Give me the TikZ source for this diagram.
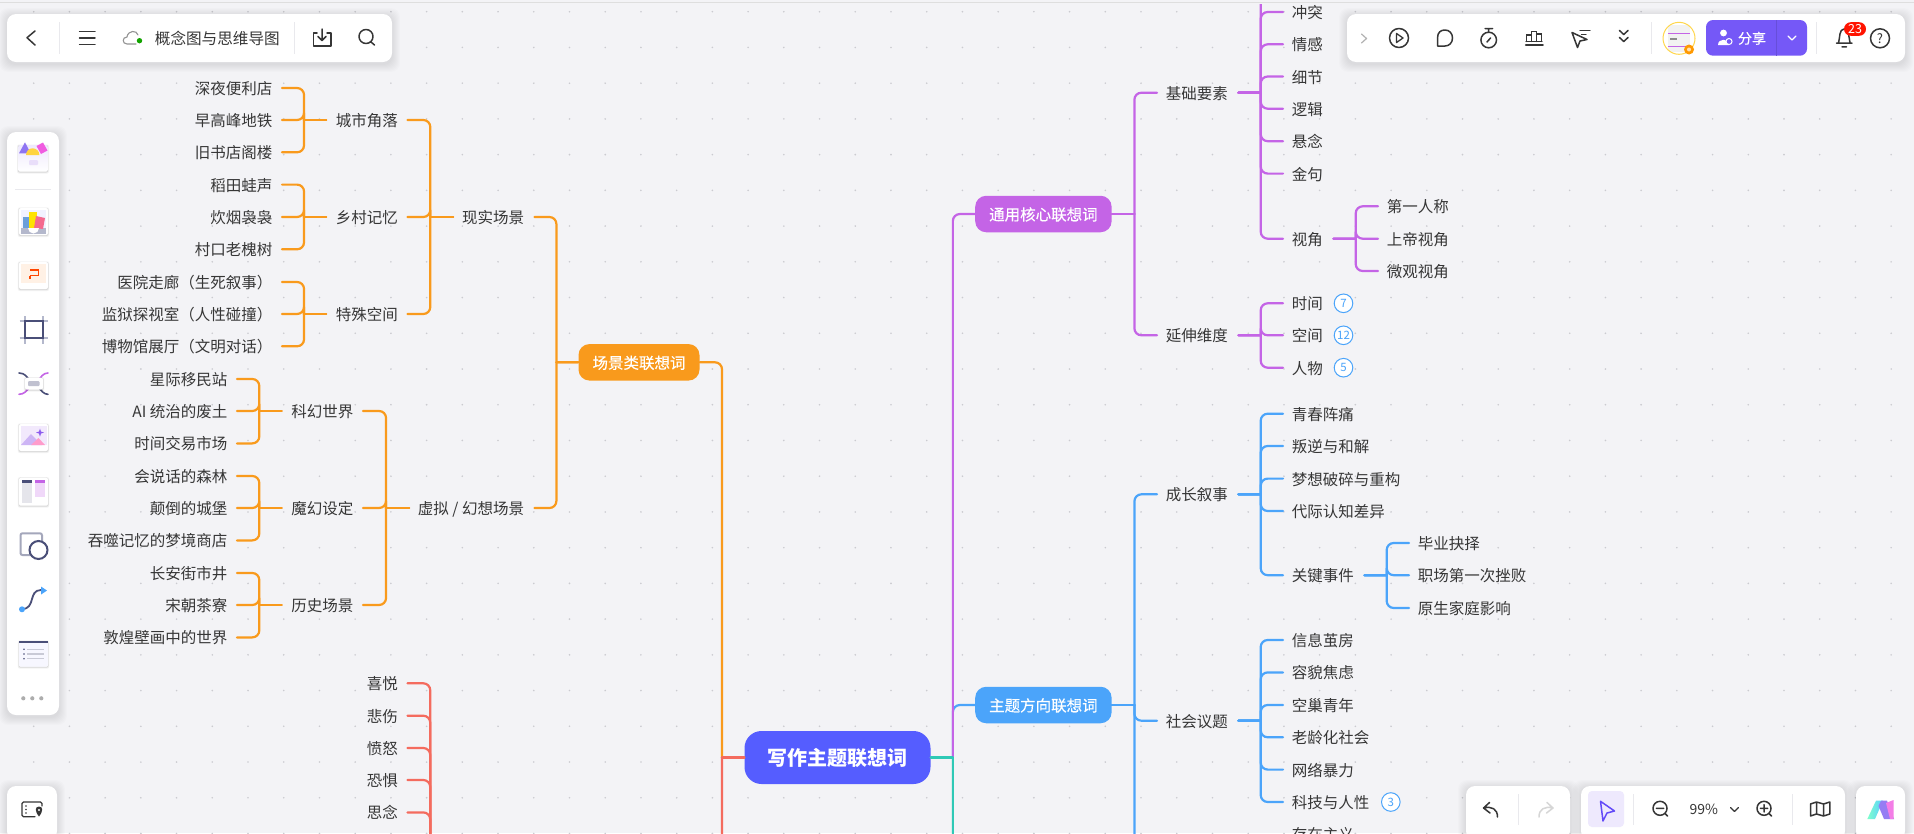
\documentclass[tikz,border=0pt]{standalone}
\usepackage{fontspec}
\setmainfont{Noto Sans CJK SC}
\newfontfamily\cjkmed[FakeBold=0.35]{Noto Sans CJK SC}
\usetikzlibrary{calc}
\definecolor{bgc}{HTML}{F3F3F6}
\definecolor{dotc}{HTML}{CBCBD0}
\definecolor{ink}{HTML}{363636}
\definecolor{orangec}{HTML}{F99A1C}
\definecolor{redc}{HTML}{F46B5E}
\definecolor{purplec}{HTML}{C464E6}
\definecolor{bluec}{HTML}{4BA4FA}
\definecolor{tealc}{HTML}{2EC9B6}
\definecolor{rootc}{HTML}{555DFF}
\definecolor{sharec}{HTML}{7558F7}
\definecolor{navy}{HTML}{4A4F78}
\definecolor{divc}{HTML}{E9E9ED}
\definecolor{lav}{HTML}{EEE9FD}
\definecolor{vio}{HTML}{7B5CF0}
\definecolor{pinkc}{HTML}{F05CE0}
\definecolor{mauve}{HTML}{CDB5F5}
\definecolor{paleviolet}{HTML}{F2E9FC}
\definecolor{rosec}{HTML}{FF9CCB}
\definecolor{handle}{HTML}{B4B8CC}
\tikzset{
  link/.style={line width=2.2pt,rounded corners=7pt,line cap=round},
  lbl/.style={inner xsep=9.5pt,inner ysep=0pt,text height=14.3pt,text depth=1.2pt,text=ink,
    font=\fontsize{15.5}{18}\selectfont},
  topic/.style={rounded corners=11pt,minimum width=136.4pt,minimum height=36.5pt,inner sep=0pt,text=white,
    text height=14.1pt,text depth=1.4pt,font=\cjkmed\fontsize{15.5}{18}\selectfont},
  count/.style={circle,draw=bluec,line width=1pt,fill=white,minimum size=18.6pt,inner sep=0pt,text=bluec,
    font=\fontsize{11.5}{13}\selectfont},
  ico/.style={draw=ink,line width=1.5pt,line cap=round,line join=round},
}
\newcommand\lnode[4]{\node[lbl,anchor=east] (#1) at (#2,#3) {#4};}
\newcommand\rnode[4]{\node[lbl,anchor=west] (#1) at (#2,#3) {\hspace*{-.8pt}#4\hspace*{.8pt}};}
\newcommand\linkL[3]{%
  \draw[link,#1] ($(#2.west)!.5!(#2.west -| #3.east)$) |- (#3.east);
  \draw[link,#1] (#2.west) -- ($(#2.west)!.5!(#2.west -| #3.east)$);}
\newcommand\linkR[3]{%
  \draw[link,#1] ($(#2.east)!.5!(#2.east -| #3.west)$) |- (#3.west);
  \draw[link,#1] (#2.east) -- ($(#2.east)!.5!(#2.east -| #3.west)$);}
\newcommand\panel[5]{%
  \foreach \s in {1,2,...,8}{\fill[black,opacity=.012,rounded corners=9pt] (#1-\s,#2-\s+2) rectangle (#3+\s,#4+\s+2);}
  \fill[white,rounded corners=#5] (#1,#2) rectangle (#3,#4);}
\newcommand\cardshadow[4]{%
  \fill[black,opacity=.05,rounded corners=2pt] (#1-1.2,#2-.6) rectangle (#3+1.2,#4+2);
  \fill[black,opacity=.10,rounded corners=2pt] (#1-.5,#2) rectangle (#3+.5,#4+1);
  \fill[white,rounded corners=2pt] (#1,#2) rectangle (#3,#4);}
\begin{document}
\begin{tikzpicture}[x=1pt,y=-1pt]
\useasboundingbox (0,0) rectangle (1914,833);
\clip (0,0) rectangle (1914,833);
\fill[bgc] (0,0) rectangle (1914,833);
\foreach \i in {0,...,53}{\foreach \j in {0,...,23}{
  \fill[dotc] (33.7+35.72*\i,11.7+35.73*\j) circle (.9pt);}}

% ---------- topics
\node[topic,fill=rootc,minimum width=186pt,minimum height=53pt,rounded corners=17pt,
  font=\fontsize{20}{24}\selectfont\bfseries,text height=17.6pt,text depth=2.4pt] (root) at (837.5,757.5) {写作主题联想词};
\node[topic,fill=orangec,minimum width=121pt] (scene) at (639,362.3) {场景类联想词};
\node[topic,fill=purplec] (core) at (1043.4,214) {通用核心联想词};
\node[topic,fill=bluec] (theme) at (1043.4,705) {主题方向联想词};
\coordinate (redoff) at (699.5,1100);
\coordinate (tealoff) at (975,1100);

% ---------- orange, left
\lnode{real}{534.5}{217}{\hspace*{-.8pt}现实场景\hspace*{.8pt}}
\lnode{virt}{534.5}{508}{\hspace*{-.8pt}虚拟 / 幻想场景\hspace*{.8pt}}
\lnode{city}{407.5}{120}{城市角落}
\lnode{rural}{407.5}{217}{乡村记忆}
\lnode{spec}{407.5}{314}{特殊空间}
\lnode{sf}{363}{411}{科幻世界}
\lnode{magic}{363}{508}{魔幻设定}
\lnode{hist}{363}{605}{历史场景}
\lnode{a1}{282}{88}{深夜便利店}
\lnode{a2}{282}{120}{早高峰地铁}
\lnode{a3}{282}{152.3}{旧书店阁楼}
\lnode{b1}{282}{184.6}{稻田蛙声}
\lnode{b2}{282}{217}{炊烟袅袅}
\lnode{b3}{282}{249.3}{村口老槐树}
\lnode{c1}{282}{282}{医院走廊（生死叙事）}
\lnode{c2}{282}{314}{监狱探视室（人性碰撞）}
\lnode{c3}{282}{346.3}{博物馆展厅（文明对话）}
\lnode{d1}{237}{379}{星际移民站}
\lnode{d2}{237}{411}{AI 统治的废土}
\lnode{d3}{237}{443.4}{时间交易市场}
\lnode{e1}{237}{476}{会说话的森林}
\lnode{e2}{237}{508}{颠倒的城堡}
\lnode{e3}{237}{540.4}{吞噬记忆的梦境商店}
\lnode{f1}{237}{573}{长安街市井}
\lnode{f2}{237}{605}{宋朝茶寮}
\lnode{f3}{237}{637.4}{敦煌壁画中的世界}
\linkL{orangec}{root}{scene}
\linkL{orangec}{scene}{real}
\linkL{orangec}{scene}{virt}
\foreach \c in {city,rural,spec}{\linkL{orangec}{real}{\c}}
\foreach \c in {sf,magic,hist}{\linkL{orangec}{virt}{\c}}
\foreach \c in {a1,a2,a3}{\linkL{orangec}{city}{\c}}
\foreach \c in {b1,b2,b3}{\linkL{orangec}{rural}{\c}}
\foreach \c in {c1,c2,c3}{\linkL{orangec}{spec}{\c}}
\foreach \c in {d1,d2,d3}{\linkL{orangec}{sf}{\c}}
\foreach \c in {e1,e2,e3}{\linkL{orangec}{magic}{\c}}
\foreach \c in {f1,f2,f3}{\linkL{orangec}{hist}{\c}}

% ---------- red, left (parent lies below the visible area)
\coordinate (redhub) at (453,1000);
\lnode{g1}{407.5}{683.3}{喜悦}
\lnode{g2}{407.5}{715.7}{悲伤}
\lnode{g3}{407.5}{748}{愤怒}
\lnode{g4}{407.5}{780}{恐惧}
\lnode{g5}{407.5}{812.4}{思念}
\foreach \c in {g1,g2,g3,g4,g5}{\linkL{redc}{redhub}{\c}}
\linkL{redc}{root}{redoff}

% ---------- blue, right
\rnode{grow}{1157}{494.3}{成长叙事}
\rnode{social}{1157}{720.7}{社会议题}
\coordinate (bluehub) at (1157,900);
\coordinate (bluehubr) at (1238,900);
\coordinate (k1stub) at (1283,842);
\rnode{h1}{1283}{413.7}{青春阵痛}
\rnode{h2}{1283}{446}{叛逆与和解}
\rnode{h3}{1283}{478.6}{梦想破碎与重构}
\rnode{h4}{1283}{511}{代际认知差异}
\rnode{h5}{1283}{575.2}{关键事件}
\rnode{i1}{1409}{543}{毕业抉择}
\rnode{i2}{1409}{575.2}{职场第一次挫败}
\rnode{i3}{1409}{608}{原生家庭影响}
\rnode{j1}{1283}{640}{信息茧房}
\rnode{j2}{1283}{672.4}{容貌焦虑}
\rnode{j3}{1283}{705}{空巢青年}
\rnode{j4}{1283}{737.3}{老龄化社会}
\rnode{j5}{1283}{769.6}{网络暴力}
\rnode{j6}{1283}{802}{科技与人性}
\rnode{k1}{1283}{834.4}{存在主义}
\node[count] (cnt3) at (1390.8,802) {3};
\linkR{bluec}{root}{theme}
\foreach \c in {grow,social,bluehub}{\linkR{bluec}{theme}{\c}}
\foreach \c in {h1,h2,h3,h4,h5}{\linkR{bluec}{grow}{\c}}
\foreach \c in {i1,i2,i3}{\linkR{bluec}{h5}{\c}}
\foreach \c in {j1,j2,j3,j4,j5,j6}{\linkR{bluec}{social}{\c}}
\linkR{bluec}{bluehubr}{k1stub}

% ---------- purple, right
\rnode{base}{1157}{92.7}{基础要素}
\rnode{ext}{1157}{335.3}{延伸维度}
\coordinate (topoff) at (1283,-20);
\rnode{m1}{1283}{12}{冲突}
\rnode{m2}{1283}{44.3}{情感}
\rnode{m3}{1283}{76.5}{细节}
\rnode{m4}{1283}{108.7}{逻辑}
\rnode{m5}{1283}{141.2}{悬念}
\rnode{m6}{1283}{173.6}{金句}
\rnode{m7}{1283}{238.7}{视角}
\rnode{n1}{1378}{206.3}{第一人称}
\rnode{n2}{1378}{238.7}{上帝视角}
\rnode{n3}{1378}{271}{微观视角}
\rnode{o1}{1283}{303.3}{时间}
\rnode{o2}{1283}{335.3}{空间}
\rnode{o3}{1283}{367.7}{人物}
\node[count] (cnt7) at (1343.5,303.3) {7};
\node[count] (cnt12) at (1343.5,335.3) {12};
\node[count] (cnt5) at (1343.5,367.7) {5};
\linkR{purplec}{root}{core}
\foreach \c in {base,ext}{\linkR{purplec}{core}{\c}}
\foreach \c in {topoff,m1,m2,m3,m4,m5,m6,m7}{\linkR{purplec}{base}{\c}}
\foreach \c in {n1,n2,n3}{\linkR{purplec}{m7}{\c}}
\foreach \c in {o1,o2,o3}{\linkR{purplec}{ext}{\c}}

% ---------- teal
\linkR{tealc}{root}{tealoff}

% ---------- window edge
\fill[bgc] (0,0) rectangle (1914,4);
\draw[line width=.9pt,draw=black!13] (0,2.7) -- (1914,2.7);

% ---------- top-left bar
\panel{7}{14}{392}{62}{9pt}
\draw[divc,line width=.8pt] (59.5,22) -- (59.5,54) (294.5,22) -- (294.5,54);
\draw[ico] (35,31) -- (27,37.7) -- (35,45);
\draw[ico] (79.5,31.7) -- (95,31.7) (79.5,37.8) -- (95,37.8) (79.5,44.7) -- (95,44.7);
\draw[draw=black!42,line width=1.1pt,line cap=round] (136,44) -- (127,44) .. controls (122,44) and (122,37) .. (127,37) .. controls (128,30) and (137,30) .. (138,35);
\fill[green!60!black!90!lime] (139.5,40.7) circle (2.7pt);
\node[inner sep=0pt,anchor=west,text=ink,text height=14.3pt,text depth=1.2pt,font=\fontsize{15.6}{18}\selectfont] (title) at (154.7,37.5) {概念图与思维导图};
\draw[ico] (317,33) -- (313.5,33) -- (313.5,46) -- (331,46) -- (331,33) -- (327,33);
\draw[ico] (322,29) -- (322,40) (318,36.5) -- (322,40.5) -- (326,36.5);
\draw[ico] (366,36.5) circle (7pt) (371,42) -- (374.5,45);

% ---------- top-right bar
\panel{1347}{14}{1905}{62}{9pt}
\draw[draw=black!30,line width=1.2pt,line cap=round,line join=round] (1361.5,34) -- (1366.5,38.5) -- (1361.5,43);
\draw[ico,line width=1.5pt] (1399,38) circle (9.5pt);
\draw[ico,line width=1.3pt] (1396.5,33.5) -- (1403,38) -- (1396.5,42.5) -- cycle;
\draw[ico,line width=1.5pt] (1437.5,46) -- (1437.5,38) .. controls (1437.5,32) and (1441,30) .. (1445,30) .. controls (1449.5,30) and (1452.5,33.5) .. (1452.5,38) .. controls (1452.5,43) and (1449,46) .. (1445,46) -- cycle;
\draw[ico,line width=1.5pt] (1488.7,40) circle (7.8pt);
\draw[ico,line width=1.5pt] (1485,28.5) -- (1492.5,28.5) (1488.7,28.5) -- (1488.7,32) (1487,42) -- (1490.5,38);
\draw[ico,line width=1.3pt,line join=miter] (1526.5,41.5) -- (1526.5,35) -- (1531.5,35) -- (1531.5,41.5) (1531.5,35) -- (1531.5,31.5) -- (1536.5,31.5) -- (1536.5,41.5) (1536.5,34) -- (1541.5,34) -- (1541.5,41.5) (1526,41.5) -- (1542,41.5);
\draw[ico,line width=1.5pt] (1525.7,44.8) -- (1543,44.8);
\draw[ico,line width=1.5pt] (1572,32.5) -- (1587,39.5) -- (1580,41) -- (1577.5,47.5) -- cycle;
\draw[ico,line width=1.2pt] (1580,30.7) -- (1590,30.7) (1581.5,34.3) -- (1586,34.3);
\draw[ico,line width=1.5pt] (1619.5,30.5) -- (1623.7,34.5) -- (1628,30.5) (1619.5,37.5) -- (1623.7,41.5) -- (1628,37.5);
\draw[divc,line width=.8pt] (1651.3,22) -- (1651.3,54) (1816.3,22) -- (1816.3,54);
\begin{scope}
\clip (1679,38.3) circle (16pt);
\fill[white] (1663,22) rectangle (1695,55);
\fill[black!5] (1668,25) rectangle (1690,52);
\draw[purplec,line width=.8pt] (1668,33.5) -- (1690,33.5) (1668,46) -- (1690,46);
\fill[black!45] (1670,37.5) rectangle (1677,39.5);
\end{scope}
\draw[draw=orange!45!yellow!70,line width=1pt] (1679,38.3) circle (16pt);
\fill[orange!80!yellow] (1689,49.5) circle (5pt);
\fill[white,opacity=.7] (1689,49.5) circle (2pt);
\fill[sharec,rounded corners=7pt] (1706,20) rectangle (1807,55.7);
\draw[black!12!sharec,line width=.8pt] (1776.7,20) -- (1776.7,55.7);
\fill[white] (1723.5,33) circle (3.4pt) (1718,45) .. controls (1718,38) and (1729,38) .. (1729,45) -- cycle;
\draw[white,fill=sharec,line width=1pt] (1729,41.5) circle (3pt);
\node[inner sep=0pt,text=white,font=\cjkmed\fontsize{14}{16}\selectfont] (sharetxt) at (1752,38.3) {分享};
\draw[white,line width=1.3pt,line cap=round,line join=round] (1788,36) -- (1792,40) -- (1796,36);
\draw[ico,line width=1.5pt] (1838.5,43) .. controls (1840,38) and (1839,29) .. (1844,29) .. controls (1849,29) and (1849,38) .. (1850,43) -- cycle (1836.5,43.2) -- (1852,43.2) (1842,46.8) -- (1846.5,46.8);
\node[fill=red!85!orange,rounded corners=6.8pt,minimum width=22pt,minimum height=13.6pt,inner sep=0pt,text=white,font=\fontsize{12.5}{13}\selectfont] (badge) at (1855,29) {23};
\node[circle,draw=ink,line width=1.5pt,minimum size=19pt,inner sep=0pt,text=ink,font=\fontsize{13}{14}\selectfont] (helpq) at (1880,38.3) {?};

% ---------- left sidebar
\panel{7}{132}{59}{715}{9pt}
\fill[black,opacity=.05,rounded corners=2pt] (17,144.5) rectangle (49,173.5);
\fill[black,opacity=.10,rounded corners=2pt] (17.8,145) rectangle (48.2,172.6);
\shade[top color=lav,bottom color=white,rounded corners=2pt] (18.3,145) rectangle (47.7,171.7);
\fill[vio!85!white] (19,153.3) -- (25,142.3) -- (30.7,153.3) -- cycle;
\fill[pinkc] (36.5,146) -- (43,142.5) -- (47.5,150.5) -- (41,154) -- cycle;
\fill[orange!45!yellow!75] (26,155) arc (180:0:6.7pt) -- cycle;
\fill[mauve!45!white,rounded corners=1pt] (29,160) rectangle (38,165);
\draw[divc,line width=.8pt] (15,189) -- (51,189);
\cardshadow{19}{208}{48}{235}
\fill[blue!5!white] (21,210) rectangle (46,228);
\fill[handle] (21,228) rectangle (46,234);
\fill[cyan!55!blue!60!white] (23,217) rectangle (31,228);
\fill[yellow!85!orange] (29,212) rectangle (37,229);
\fill[magenta!55!red!60!white] (36,216) -- (45,218) -- (43,229) -- (34,228) -- cycle;
\fill[white] (28,228) arc (180:360:5.5pt) -- cycle;
\cardshadow{19}{262}{48}{289}
\fill[red!12!orange!10!white] (21,264) rectangle (46,283);
\draw[orange!55!red,line width=1.8pt] (30,270) -- (38.5,270) -- (38.5,275.5) -- (30,275.5) (30,275.5) -- (30,279);
\draw[handle,line width=2pt] (19.5,321) -- (48,321) (19.5,338.3) -- (48,338.3) (25,316) -- (25,344) (42.7,316) -- (42.7,344);
\draw[navy,line width=2pt] (25,321) rectangle (42.7,338.3);
\draw[navy,line width=1.6pt,line cap=round] (19,373) .. controls (25,373) and (27,377) .. (30,381) (38,386) .. controls (41,391) and (44,394.3) .. (48,394.3);
\draw[purplec,line width=1.6pt,line cap=round] (48,373) .. controls (43,373) and (41,377) .. (38,381) (30,386) .. controls (27,391) and (24,394.3) .. (19,394.3);
\cardshadow{25}{377.7}{43}{389.5}
\fill[navy!35!white,rounded corners=1pt] (28,381) rectangle (39.5,386);
\cardshadow{19}{424}{48}{451}
\fill[paleviolet] (21,426) rectangle (47,445);
\fill[mauve] (21,445) -- (31,434) -- (42,445) -- cycle;
\fill[rosec] (31,445) -- (38.5,438) -- (45,445) -- cycle;
\fill[vio!85!pinkc] (40,428.5) -- (41,431.5) -- (44,432.5) -- (41,433.5) -- (40,436.5) -- (39,433.5) -- (36,432.5) -- (39,431.5) -- cycle;
\cardshadow{19}{477.7}{48}{505.7}
\fill[blue!20!black!10] (22,480) rectangle (32,503);
\fill[navy] (22,480) rectangle (32,482.5);
\fill[purplec!25!white] (35,480) rectangle (45,497);
\fill[purplec] (35,480) rectangle (45,482.5);
\draw[draw=navy!50!white,line width=2pt,fill=white,rounded corners=2pt] (20.5,533.3) rectangle (42,555);
\draw[navy,line width=2pt,fill=white] (38.5,550) circle (9pt);
\draw[navy,line width=1.8pt] (22,609) .. controls (36,609) and (28,590) .. (41,590);
\fill[bluec] (22,609.3) circle (3pt);
\fill[bluec] (41,586.5) -- (47,590.5) -- (41,594.5) -- cycle;
\cardshadow{19}{641}{48}{666.7}
\fill[blue!3!white,rounded corners=2pt] (19,641) rectangle (48,666.7);
\fill[navy] (19,640.7) rectangle (48,643.3);
\foreach \y in {649.3,654,658.7}{
  \fill[navy] (24,\y) circle (.9pt);
  \draw[navy!30!white,line width=1.1pt] (27,\y) -- (44,\y);}
\foreach \x in {23.3,32.3,41.3}{\fill[black!32] (\x,698.3) circle (2.1pt);}

% ---------- bottom-left bar
\panel{7}{786}{57}{840}{9pt}
\draw[ico,line width=1.3pt,rounded corners=1.5pt] (42,806) -- (42,802) -- (22,802) -- (22,816.7) -- (35,816.7);
\foreach \y in {806,809.5,813}{\fill[ink] (26,\y) circle (.9pt);}
\fill[ink] (39,806.5) .. controls (35,806.5) and (34.5,811) .. (39,816.5) .. controls (43.5,811) and (43,806.5) .. (39,806.5) -- cycle;
\fill[white] (39,810) circle (1.2pt);

% ---------- bottom-right bars
\panel{1466}{786}{1570}{840}{9pt}
\panel{1581}{786}{1845}{840}{9pt}
\panel{1856}{786}{1905}{840}{9pt}
\draw[ico,line width=1.5pt] (1489.5,802.5) -- (1483.5,808) -- (1490,813) (1483.5,808) .. controls (1492,806) and (1497.5,809) .. (1497.5,817);
\draw[divc,line width=.8pt] (1518,794) -- (1518,825) (1633.3,794) -- (1633.3,825) (1792.3,794) -- (1792.3,825);
\draw[draw=black!16,line width=1.5pt,line cap=round,line join=round] (1547,802.5) -- (1553,808) -- (1546.5,813) (1553,808) .. controls (1544.5,806) and (1539,809) .. (1539,817);
\fill[lav,rounded corners=4pt] (1588,791) rectangle (1624,827);
\draw[line width=1.5pt,draw=sharec!85!blue,line join=round] (1600.5,801.3) -- (1614.5,811) -- (1607,813) -- (1603,821) -- cycle;
\draw[ico,line width=1.5pt] (1660,808.3) circle (7pt) (1656.3,808.3) -- (1663.7,808.3) (1665,813.5) -- (1667.5,816);
\node[inner sep=0pt,text=ink,font=\fontsize{14}{16}\selectfont] (pct) at (1703.7,809) {99\%};
\draw[ico,line width=1.3pt] (1730.5,807.5) -- (1734.5,811.5) -- (1738.5,807.5);
\draw[ico,line width=1.5pt] (1764,808.3) circle (7pt) (1760.3,808.3) -- (1767.7,808.3) (1764,804.6) -- (1764,812) (1769,813.5) -- (1771.5,816);
\draw[ico,line width=1.5pt] (1810.5,804) -- (1816.5,802) -- (1823.5,804) -- (1829.8,802) -- (1829.8,814) -- (1823.5,816) -- (1816.5,814) -- (1810.5,816) -- cycle (1816.5,802) -- (1816.5,814) (1823.5,804) -- (1823.5,816);
\shade[left color=cyan!60!green!50!white,right color=cyan!70!blue!65!white] (1867.3,819) -- (1876,800.7) -- (1883,800.7) -- (1875,819) -- cycle;
\fill[vio!80!white] (1878.5,806) -- (1881,800.7) -- (1887,800.7) -- (1894,819) -- (1884,819) -- cycle;
\fill[pinkc!80!white] (1886,803) -- (1893.5,800) -- (1893.5,819) -- (1890,819) -- cycle;
\end{tikzpicture}
\end{document}
